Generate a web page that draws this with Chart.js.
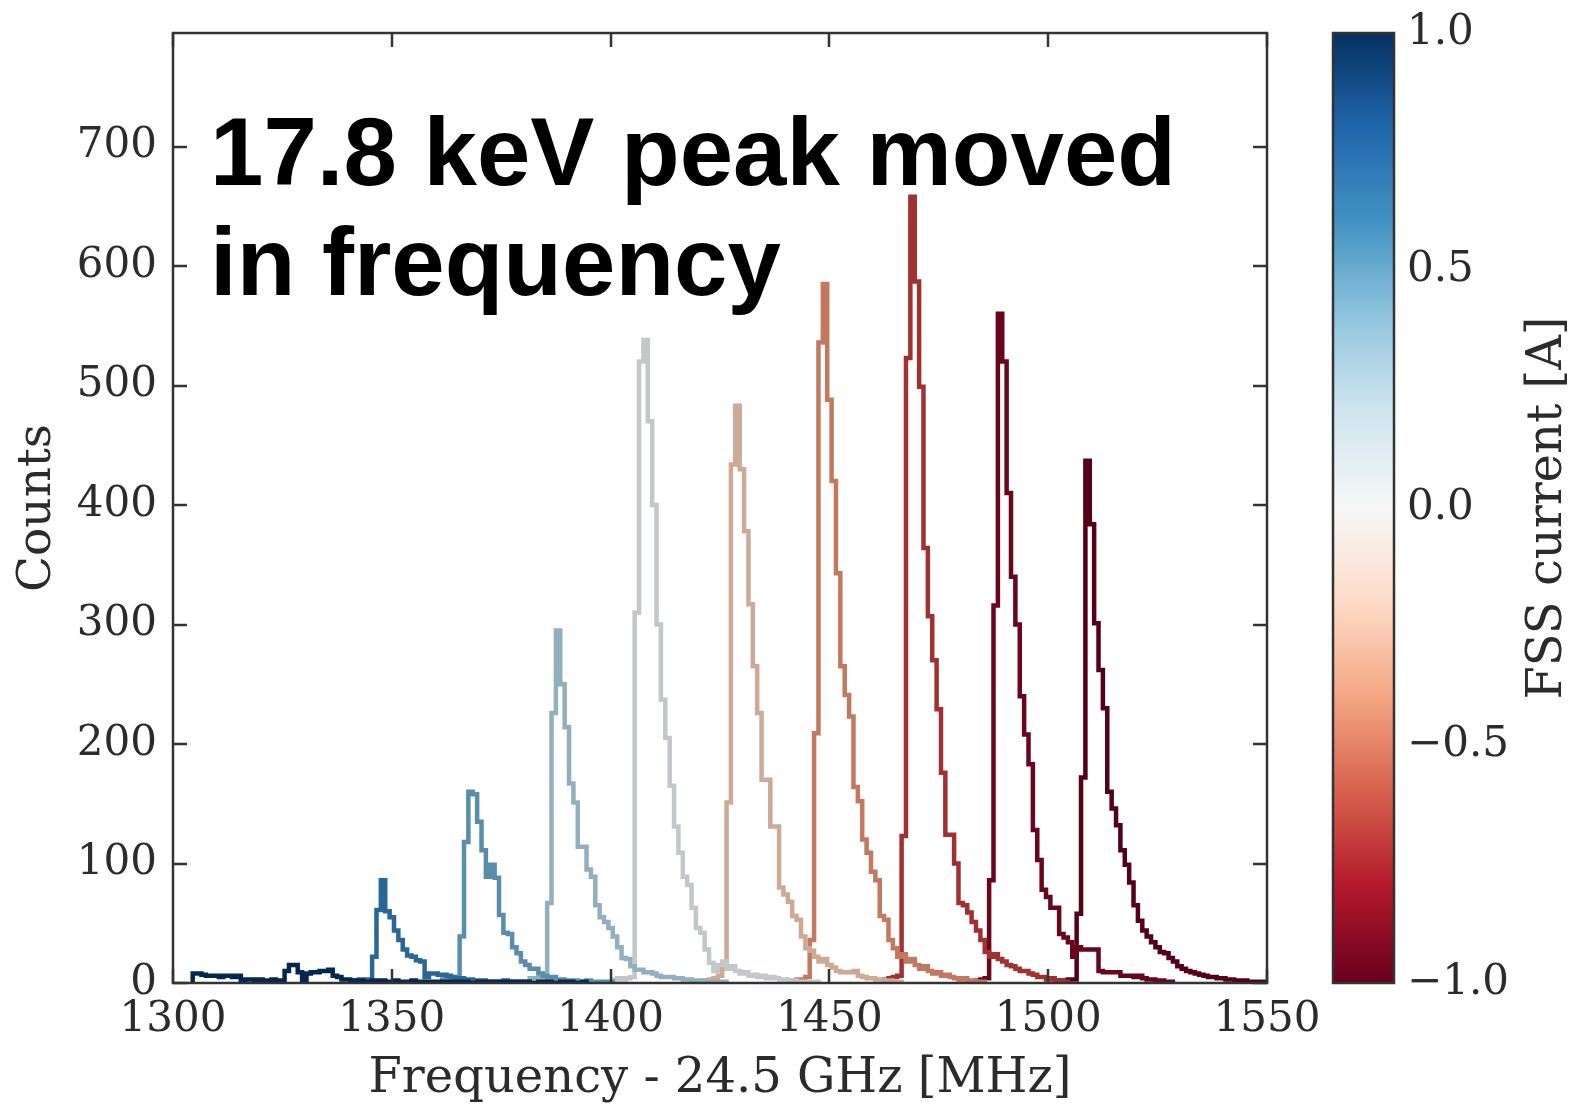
<!DOCTYPE html>
<html>
<head>
<meta charset="utf-8">
<script src="https://cdn.jsdelivr.net/npm/chart.js@4.4.1/dist/chart.umd.min.js"></script>
<style>
  html, body { margin: 0; padding: 0; background: #fff; }
  canvas { display: block; }
</style>
</head>
<body>
<canvas id="chart" width="1572" height="1111"></canvas>
<script>
// --- Data ---
const BIN_WIDTH = 1.0; // MHz

const xTicks = [1300, 1350, 1400, 1450, 1500, 1550];
const yTicks = [0, 100, 200, 300, 400, 500, 600, 700];
const cbTicks = [1.0, 0.5, 0.0, -0.5, -1.0];
const cbTickLabels = ['1.0', '0.5', '0.0', '\u22120.5', '\u22121.0'];

// FSS current for each histogram (sets its colour on the colorbar)
const fssCurrent = [1.0, 0.7, 0.5, 0.3, 0.05, -0.25, -0.45, -0.7, -0.94, -1.0];

// left edge of first bin of each histogram
const binStart = [1304.5, 1341.5, 1361.5, 1381.5, 1400.5, 1421.5, 1441.5, 1462.5, 1483.5, 1502.5];

const countsA = [8, 8, 7, 6, 6, 6, 5, 6, 6, 5, 6, 2, 3, 3, 2, 3, 2, 2, 3, 2, 2, 10, 15, 15, 9, 2, 8, 9, 9, 10, 10, 11, 6, 5, 3, 3, 2, 1, 2, 1, 1, 2, 1, 2, 1, 1, 2, 1, 1, 1, 2, 1, 1, 1, 0, 1, 1, 1, 0, 1, 1, 0, 1, 0, 0, 1, 1, 0, 1, 1, 0, 1, 0, 1, 1, 0, 1, 0, 0, 1, 0, 1, 0, 0, 1, 0, 1, 0, 0, 1];
const countsB = [2, 3, 2, 3, 22, 61, 86, 60, 55, 44, 36, 28, 23, 22, 19, 18, 5, 8, 8, 7, 7, 6, 5, 3, 4, 2, 3, 2, 1, 2, 1, 1, 1, 1, 2, 1, 1, 0, 1, 1];
const countsC = [3, 2, 3, 4, 39, 118, 160, 158, 135, 111, 89, 99, 88, 57, 42, 41, 30, 25, 18, 15, 12, 12, 8, 6, 4, 5, 3, 3, 2, 2, 2, 1, 1, 2, 1, 1, 1, 0, 1];
const countsD = [4, 3, 4, 4, 67, 226, 295, 250, 214, 167, 151, 114, 114, 95, 89, 65, 55, 51, 46, 39, 30, 21, 20, 14, 11, 11, 9, 9, 8, 6, 5, 5, 5, 4, 4, 3, 3, 2, 2, 2, 1, 1, 1, 0, 1];
const countsE = [3, 4, 3, 4, 5, 310, 520, 538, 470, 400, 300, 237, 205, 165, 131, 109, 89, 82, 63, 46, 42, 28, 17, 10, 15, 18, 12, 14, 10, 8, 9, 6, 7, 5, 6, 4, 5, 4, 3, 3, 2, 2, 1, 1, 1, 0, 1];
const countsF = [2, 3, 4, 6, 12, 151, 434, 483, 430, 378, 317, 265, 226, 170, 170, 131, 131, 80, 74, 68, 56, 53, 39, 29, 27, 22, 18, 20, 15, 13, 10, 9, 9, 9, 10, 6, 5, 4, 4, 3, 3, 2, 2, 1, 1];
const countsG = [2, 3, 3, 5, 36, 209, 536, 585, 488, 420, 343, 265, 241, 223, 164, 152, 120, 109, 93, 86, 56, 53, 36, 29, 22, 24, 18, 20, 15, 12, 14, 10, 8, 9, 6, 7, 5, 4, 3, 4, 2, 2, 1, 1];
const countsH = [3, 4, 5, 6, 123, 523, 658, 587, 499, 364, 307, 270, 229, 176, 124, 124, 100, 67, 65, 59, 51, 44, 36, 26, 22, 24, 20, 18, 15, 14, 12, 10, 10, 8, 7, 5, 5, 3, 4, 2, 2, 1];
const countsI = [2, 3, 4, 86, 316, 560, 520, 410, 340, 300, 240, 208, 183, 128, 103, 78, 72, 63, 63, 41, 38, 34, 22, 30, 28, 28, 28, 28, 10, 9, 9, 9, 9, 6, 6, 6, 5, 6, 4, 3, 3, 2, 2, 1, 1];
const countsJ = [2, 2, 3, 3, 58, 172, 437, 384, 301, 262, 230, 160, 146, 132, 111, 99, 84, 65, 52, 44, 39, 34, 30, 26, 25, 21, 18, 14, 12, 10, 9, 8, 7, 6, 5, 5, 4, 4, 3, 3, 2, 2, 2, 1, 1, 1, 1];

const allCounts = [countsA, countsB, countsC, countsD, countsE, countsF, countsG, countsH, countsI, countsJ];

// --- Style ---
const FRAME_COLOR = '#333333';
const TEXT_COLOR = '#2b2b2b';
const TICK_LEN = 14;
const SERIF = '"DejaVu Serif", serif';

// matplotlib RdBu colormap stops (0 = red end, 1 = blue end)
const RDBU = ['#67001f', '#b2182b', '#d6604d', '#f4a582', '#fddbc7', '#f7f7f7',
              '#d1e5f0', '#92c5de', '#4393c3', '#2166ac', '#053061'];

function hexToRgb(h) {
    return [parseInt(h.slice(1, 3), 16), parseInt(h.slice(3, 5), 16), parseInt(h.slice(5, 7), 16)];
}

function rdbu(p) {
    const s = Math.max(0, Math.min(1, p)) * 10;
    const i = Math.min(9, Math.floor(s));
    const t = s - i;
    const a = hexToRgb(RDBU[i]), b = hexToRgb(RDBU[i + 1]);
    return a.map((v, k) => Math.round(v + (b[k] - v) * t));
}

function currentColor(c, shade) {
    const rgb = rdbu((c + 1) / 2).map(v => Math.round(v * shade));
    return `rgb(${rgb[0]}, ${rgb[1]}, ${rgb[2]})`;
}

// turn bin counts into step-outline points (left edge of each bin)
function stepPoints(start, counts) {
    const pts = [{ x: start, y: 0 }];
    counts.forEach((c, i) => pts.push({ x: start + i * BIN_WIDTH, y: c }));
    pts.push({ x: start + counts.length * BIN_WIDTH, y: 0 });
    return pts;
}

const datasets = [];
allCounts.forEach((counts, i) => {
    const pts = stepPoints(binStart[i], counts);
    // darker edge under a lighter core, like the original's outlined lines
    datasets.push({
        data: pts, stepped: 'before', pointRadius: 0, fill: false,
        borderColor: currentColor(fssCurrent[i], 0.82), borderWidth: 4.5
    });
    datasets.push({
        data: pts, stepped: 'before', pointRadius: 0, fill: false,
        borderColor: currentColor(fssCurrent[i], 1.0), borderWidth: 2.8
    });
});

// --- Frame, inward ticks, annotation and colorbar ---
const decorPlugin = {
    id: 'decor',
    afterDatasetsDraw(chart) {
        const { ctx, chartArea: a, scales: { x, y } } = chart;
        ctx.save();
        ctx.strokeStyle = FRAME_COLOR;
        ctx.lineWidth = 2.5;
        ctx.lineCap = 'butt';

        ctx.beginPath();
        x.ticks.forEach(t => {
            const px = Math.round(x.getPixelForValue(t.value));
            ctx.moveTo(px, a.bottom); ctx.lineTo(px, a.bottom - TICK_LEN);
            ctx.moveTo(px, a.top); ctx.lineTo(px, a.top + TICK_LEN);
        });
        y.ticks.forEach(t => {
            const py = Math.round(y.getPixelForValue(t.value));
            ctx.moveTo(a.left, py); ctx.lineTo(a.left + TICK_LEN, py);
            ctx.moveTo(a.right, py); ctx.lineTo(a.right - TICK_LEN, py);
        });
        ctx.stroke();
        ctx.strokeRect(a.left, a.top, a.right - a.left, a.bottom - a.top);

        // annotation
        ctx.fillStyle = '#000';
        ctx.font = 'bold 96px "Liberation Sans", Arial, sans-serif';
        ctx.textAlign = 'left';
        ctx.textBaseline = 'alphabetic';
        ctx.fillText('17.8 keV peak moved', 210, 185);
        ctx.fillText('in frequency', 210, 295);

        // colorbar
        const cbLeft = a.right + 66, cbWidth = 61;
        const grad = ctx.createLinearGradient(0, a.top, 0, a.bottom);
        RDBU.forEach((c, i) => grad.addColorStop(1 - i / (RDBU.length - 1), c));
        ctx.fillStyle = grad;
        ctx.fillRect(cbLeft, a.top, cbWidth, a.bottom - a.top);
        ctx.strokeRect(cbLeft, a.top, cbWidth, a.bottom - a.top);

        ctx.fillStyle = TEXT_COLOR;
        ctx.font = '42px ' + SERIF;
        ctx.textBaseline = 'middle';
        cbTicks.forEach((v, i) => {
            const py = a.top + (1 - (v + 1) / 2) * (a.bottom - a.top);
            ctx.fillText(cbTickLabels[i], cbLeft + cbWidth + 13, py);
        });

        ctx.font = '48px ' + SERIF;
        ctx.textAlign = 'center';
        ctx.translate(1549, (a.top + a.bottom) / 2);
        ctx.rotate(-Math.PI / 2);
        ctx.fillText('FSS current [A]', 0, 0);
        ctx.restore();
    }
};

new Chart(document.getElementById('chart'), {
    type: 'line',
    data: { datasets: datasets },
    plugins: [decorPlugin],
    options: {
        responsive: false,
        animation: false,
        devicePixelRatio: 1,
        layout: { padding: { top: 33, right: 305, left: 0, bottom: 0 } },
        plugins: { legend: { display: false }, tooltip: { enabled: false } },
        scales: {
            x: {
                type: 'linear', min: 1300, max: 1550,
                afterBuildTicks: s => { s.ticks = xTicks.map(v => ({ value: v })); },
                afterFit: s => { s.height = 128; s.paddingLeft = 0; s.paddingRight = 0; },
                grid: { display: false, drawTicks: false },
                border: { display: false },
                ticks: { autoSkip: false, maxRotation: 0, padding: 12, color: TEXT_COLOR,
                         font: { family: SERIF, size: 42 }, callback: v => String(v) },
                title: { display: true, text: 'Frequency - 24.5 GHz [MHz]', color: TEXT_COLOR,
                         font: { family: SERIF, size: 48 }, padding: { top: 0, bottom: 3 } }
            },
            y: {
                type: 'linear', min: 0, max: 795,
                afterBuildTicks: s => { s.ticks = yTicks.map(v => ({ value: v })); },
                afterFit: s => { s.width = 173; s.paddingTop = 0; s.paddingBottom = 0; },
                grid: { display: false, drawTicks: false },
                border: { display: false },
                ticks: { padding: 16, color: TEXT_COLOR, font: { family: SERIF, size: 42 },
                         callback: v => String(v) },
                title: { display: true, text: 'Counts', color: TEXT_COLOR,
                         font: { family: SERIF, size: 47 }, padding: { top: 10, bottom: 0 } }
            }
        }
    }
});
</script>
</body>
</html>
